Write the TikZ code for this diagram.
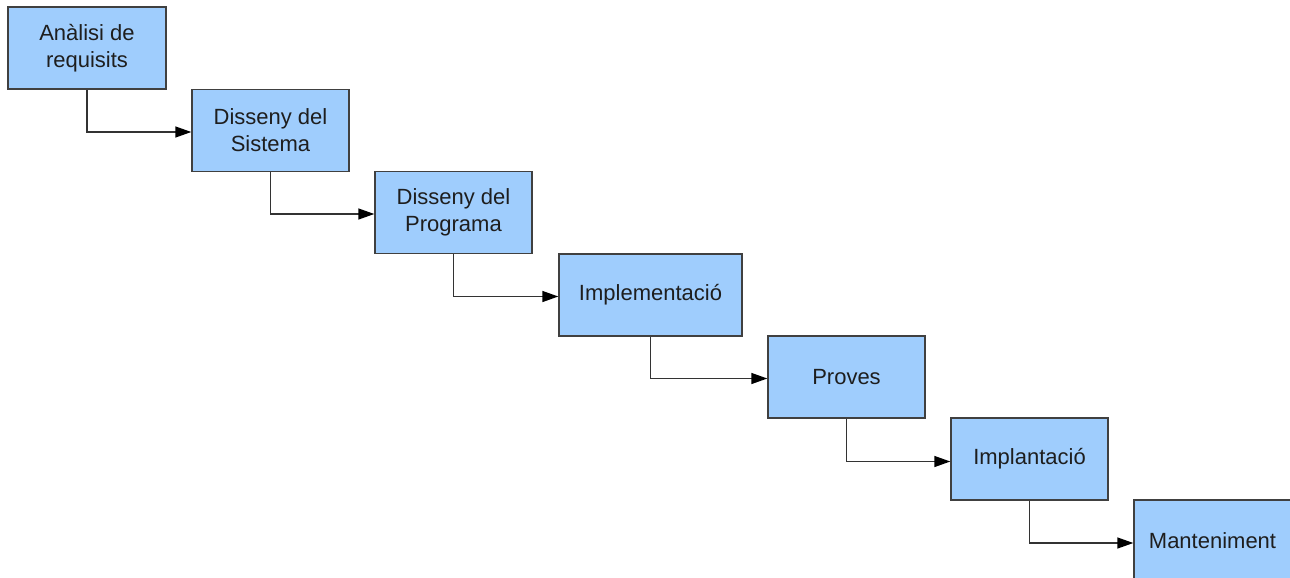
\documentclass[tikz,border=0pt]{standalone}
\usepackage{fontspec}
\setmainfont{Liberation Sans}
\usetikzlibrary{arrows.meta}
\definecolor{boxfill}{HTML}{9FCDFD}
\definecolor{boxline}{HTML}{404040}
\definecolor{wireline}{HTML}{333333}
\definecolor{labeltext}{HTML}{1E1E1E}
\tikzset{
  stagebox/.style={draw=boxline, line width=1.4pt, fill=boxfill, rectangle,
    minimum width=157pt, minimum height=82pt, inner sep=0pt, align=center,
    text=labeltext, font=\fontsize{22pt}{27pt}\selectfont},
  flow/.style={draw=wireline, line width=1.4pt,
    -{Triangle[length=16pt,width=11pt,color=black]}}
}
\begin{document}
\begin{tikzpicture}[x=1pt, y=-1pt]
  \clip (0,0) rectangle (1290,578);
  \fill[white] (0,0) rectangle (1290,578);
  % the seven stages of the waterfall
  \node[stagebox, minimum width=158pt] (req) at (87,48) {Anàlisi de\\requisits};
  \node[stagebox] (sys) at (270.5,130.5) {Disseny del\\Sistema};
  \node[stagebox] (prog) at (453.5,212.5) {Disseny del\\Programa};
  \node[stagebox, minimum width=183pt] (impl) at (650.5,295) {Implementació};
  \node[stagebox] (prov) at (846.5,377) {Proves};
  \node[stagebox] (impla) at (1029.5,459) {Implantació};
  \node[stagebox] (mant) at (1212.5,541) {Manteniment};
  % elbow connectors from each stage to the next
  \draw[flow] (req.south) |- ([yshift=-1.5pt]sys.west);
  \draw[flow] (sys.south) |- ([yshift=-1.5pt]prog.west);
  \draw[flow] (prog.south) |- ([yshift=-1.5pt]impl.west);
  \draw[flow] (impl.south) |- ([yshift=-1.5pt]prov.west);
  \draw[flow] (prov.south) |- ([yshift=-2.5pt]impla.west);
  \draw[flow] (impla.south) |- ([yshift=-2pt]mant.west);
\end{tikzpicture}
\end{document}
